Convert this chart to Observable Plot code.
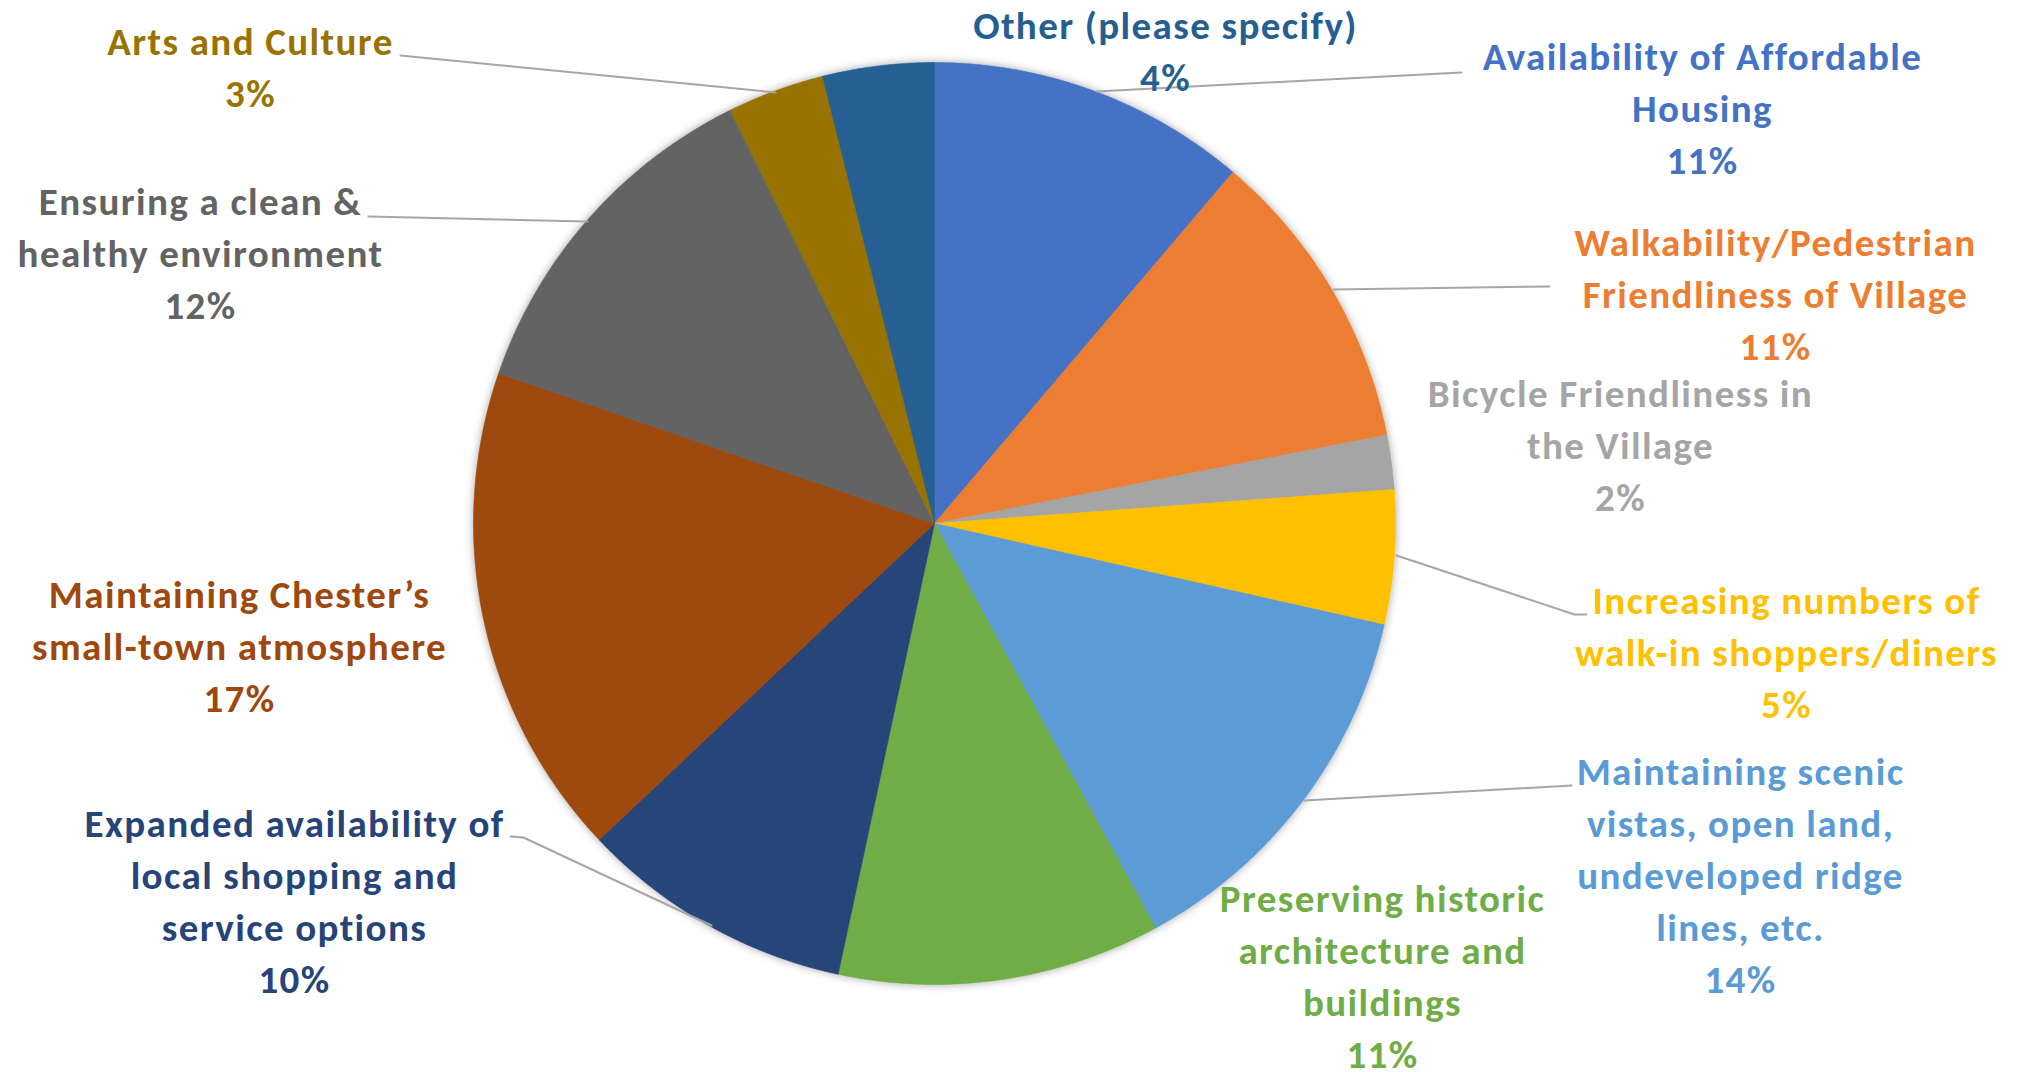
<!DOCTYPE html>
<html><head><meta charset="utf-8">
<script src="https://cdn.jsdelivr.net/npm/d3@7"></script>
<script src="https://cdn.jsdelivr.net/npm/@observablehq/plot@0.6"></script>
<style>html,body{margin:0;padding:0;background:#fff;overflow:hidden} svg{display:block}</style>
</head><body><div id="chart"></div>
<script>
// ---- data ----
const categories = [
  "Availability of Affordable Housing",
  "Walkability/Pedestrian Friendliness of Village",
  "Bicycle Friendliness in the Village",
  "Increasing numbers of walk-in shoppers/diners",
  "Maintaining scenic vistas, open land, undeveloped ridge lines, etc.",
  "Preserving historic architecture and buildings",
  "Expanded availability of local shopping and service options",
  "Maintaining Chester’s small-town atmosphere",
  "Ensuring a clean & healthy environment",
  "Arts and Culture",
  "Other (please specify)"
];
const values = [11.2, 10.7, 1.9, 4.7, 13.5, 11.3, 9.6, 17.3, 12.4, 3.4, 3.9];
const labelLines = [
  ["Availability of Affordable", "Housing"],
  ["Walkability/Pedestrian", "Friendliness of Village"],
  ["Bicycle Friendliness in", "the Village"],
  ["Increasing numbers of", "walk-in shoppers/diners"],
  ["Maintaining scenic", "vistas, open land,", "undeveloped ridge", "lines, etc."],
  ["Preserving historic", "architecture and", "buildings"],
  ["Expanded availability of", "local shopping and", "service options"],
  ["Maintaining Chester’s", "small-town atmosphere"],
  ["Ensuring a clean &", "healthy environment"],
  ["Arts and Culture"],
  ["Other (please specify)"]
];
const colors = ["#4472C4","#ED7D31","#A5A5A5","#FFC000","#5B9BD5","#70AD47","#264478","#9E480E","#636363","#997300","#255E91"];

// ---- layout (pixels) ----
const W = 2029, H = 1072, CX = 934, CY = 523, R = 461;
const labelPos = [
  [1702, 105], [1775, 291], [1620, 442], [1786, 649], [1740, 872],
  [1382, 973], [294, 898], [239, 643], [200, 250], [250, 64], [1165, 48]
];
const leaderPaths = [
  [[1096, 91], [1461, 72]],
  [[1333, 289], [1549, 286]],
  null,
  [[1396, 555], [1574, 614], [1586, 614]],
  [[1304, 800], [1571, 785]],
  null,
  [[711, 925], [523, 837], [510, 836]],
  null,
  [[587, 221], [368, 216]],
  [[775, 92], [400, 55]],
  null
];

// ---- build ----
const ux = px => (px - CX) / R;
const uy = py => (CY - py) / R;
const rows = categories.map((name, i) => ({name, value: values[i]}));
const total = d3.sum(values);
const arcs = d3.pie().sort(null).value(d => d.value)(rows);

const slicePts = [];
for (const a of arcs) {
  const n = Math.max(4, Math.ceil((a.endAngle - a.startAngle) / 0.004));
  slicePts.push({name: a.data.name, x: 0, y: 0});
  for (let k = 0; k <= n; k++) {
    const t = a.startAngle + (a.endAngle - a.startAngle) * k / n;
    slicePts.push({name: a.data.name, x: Math.sin(t), y: Math.cos(t)});
  }
  slicePts.push({name: a.data.name, x: 0, y: 0});
}

const labels = rows.map((d, i) => ({
  name: d.name,
  text: [...labelLines[i], Math.round(d.value / total * 100) + "%"].join("\n"),
  x: ux(labelPos[i][0]),
  y: uy(labelPos[i][1])
}));

const leaderPts = [];
leaderPaths.forEach((p, i) => {
  if (!p) return;
  p.forEach(([px, py]) => leaderPts.push({id: i, x: ux(px), y: uy(py)}));
});

const chart = Plot.plot({
  width: W, height: H,
  margin: 0,
  x: {domain: [ux(0), ux(W)], axis: null},
  y: {domain: [uy(H), uy(0)], axis: null},
  color: {domain: categories, range: colors},
  style: {fontFamily: "Carlito, Calibri, Lato, sans-serif", background: "#fff"},
  marks: [
    Plot.line(slicePts, {x: "x", y: "y", z: "name", fill: "name", stroke: "name", strokeWidth: 0.6, curve: "linear"}),
    Plot.line(leaderPts, {x: "x", y: "y", z: "id", stroke: "#A6A6A6", strokeWidth: 2}),
    Plot.text(labels, {x: "x", y: "y", text: "text", fill: "name", fontSize: 39, fontWeight: "bold",
      lineHeight: 52 / 39, lineAnchor: "middle", textAnchor: "middle"})
  ]
});
// soft shadow around the pie (SVG filter)
const ns = "http://www.w3.org/2000/svg";
const defs = document.createElementNS(ns, "defs");
defs.innerHTML = '<filter id="pieShadow" x="-10%" y="-10%" width="120%" height="120%">' +
  '<feDropShadow dx="0" dy="0" stdDeviation="4" flood-color="#000" flood-opacity="0.35"/></filter>';
chart.insertBefore(defs, chart.firstChild);
const pie = chart.querySelectorAll('g[aria-label="line"]')[0];
if (pie) pie.setAttribute("filter", "url(#pieShadow)");
const lbl = chart.querySelector('g[aria-label="text"]');
if (lbl) lbl.style.letterSpacing = "1.4px";
document.getElementById("chart").appendChild(chart);
</script>
</body></html>
